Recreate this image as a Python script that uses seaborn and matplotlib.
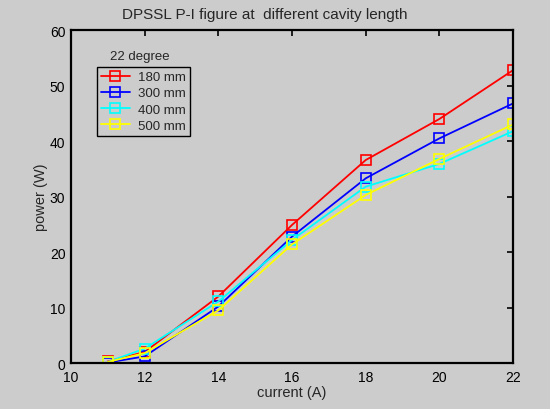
import matplotlib
matplotlib.use("Agg")
import matplotlib.pyplot as plt
import seaborn as sns
import pandas as pd

# datos
current = [11, 12, 14, 16, 18, 20, 22]
p_180 = [0.3, 2.0, 12.0, 24.9, 36.6, 44.0, 52.8]
p_300 = [0.1, 1.2, 10.2, 22.8, 33.3, 40.5, 46.8]
p_400 = [0.2, 2.6, 11.1, 22.2, 31.8, 35.9, 41.8]
p_500 = [0.2, 1.8, 9.5, 21.4, 30.3, 36.8, 43.0]
labels = ['180 mm', '300 mm', '400 mm', '500 mm']
colores = ['#ff0000', '#0000ff', '#00ffff', '#ffff00']
x_ticks = [10, 12, 14, 16, 18, 20, 22]
y_ticks = [0, 10, 20, 30, 40, 50, 60]

gris = '#cccccc'
sns.set_style('white')
plt.rcParams['font.family'] = ['Liberation Sans', 'DejaVu Sans']

fig = plt.figure(figsize=(5.5, 4.1), dpi=100, facecolor=gris)
ax = fig.add_axes([0.129, 0.112, 0.804, 0.812])
ax.set_facecolor(gris)

series = [p_180, p_300, p_400, p_500]
for vals, lab, col in zip(series, labels, colores):
    df = pd.DataFrame({'current': current, 'power': vals})
    sns.lineplot(data=df, x='current', y='power', ax=ax, color=col, label=lab,
                 marker='s', markersize=6.5, mfc='none', mec=col, mew=1.2, lw=1.3)

ax.set_xlim(10, 22)
ax.set_ylim(0, 60)
ax.set_xticks(x_ticks)
ax.set_yticks(y_ticks)
ax.tick_params(direction='in', length=4, width=1.2, top=True, right=True,
               labelsize=10, colors='black')
ax.tick_params(axis='x', pad=5)
ax.tick_params(axis='y', pad=4)
for s in ax.spines.values():
    s.set_color('black')
    s.set_linewidth(1.6)

ax.set_xlabel('current (A)', fontsize=10.5, labelpad=1)
ax.set_ylabel('power (W)', fontsize=10.5)
ax.yaxis.set_label_coords(-0.052, 0.5)
fig.text(0.482, 1 - 15 / 410, 'DPSSL P-I figure at  different cavity length',
         ha='center', va='center', fontsize=11)

leg = ax.legend(loc='upper left', bbox_to_anchor=(97 / 550, 1 - 68 / 410),
                bbox_transform=fig.transFigure, borderaxespad=0, fancybox=False,
                edgecolor='black', facecolor=gris, framealpha=1, fontsize=9.5,
                handlelength=2.2, handletextpad=0.6, labelspacing=0.3,
                borderpad=0.3)
leg.get_frame().set_linewidth(1.0)
fig.text(140 / 550, 1 - 57 / 410, '22 degree', ha='center', va='center', fontsize=9.5)

fig.savefig('out.png', dpi=100, facecolor=gris)
